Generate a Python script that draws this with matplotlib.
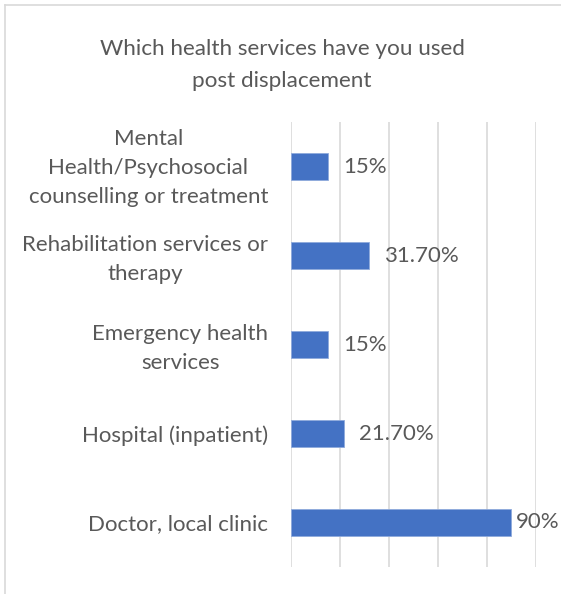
import matplotlib
matplotlib.use("Agg")
import matplotlib.pyplot as plt
import matplotlib.transforms as mtransforms
from matplotlib.lines import Line2D

categories = [
    "Doctor, local clinic",
    "Hospital (inpatient)",
    "Emergency health\nservices",
    "Rehabilitation services or\ntherapy",
    "Mental\nHealth/Psychosocial\ncounselling or treatment",
]
values = [90, 21.7, 15, 31.7, 15]
value_labels = ["90%", "21.70%", "15%", "31.70%", "15%"]
title = "Which health services have you used\npost displacement"

plt.rcParams['font.family'] = ['Lato', 'DejaVu Sans']
text_color = "#595959"

fig = plt.figure(figsize=(5.61, 5.94), dpi=100)
ax = fig.add_axes([0.5187, 0.0455, 0.4367, 0.749])

y = list(range(len(categories)))
ax.barh(y, values, height=0.31, color="#4472C4", edgecolor="#8FAADC", linewidth=0.6, zorder=3)
ax.set_xlim(0, 100)
ax.set_ylim(-0.5, len(categories) - 0.5)
ax.set_xticks([0, 20, 40, 60, 80, 100])
ax.set_xticklabels([])
ax.tick_params(axis='x', length=0)
ax.tick_params(axis='y', length=0, pad=16.5)
ax.set_yticks(y)
ax.set_yticklabels(categories, fontsize=16, color=text_color, linespacing=1.58, ha='right')
for lbl in ax.get_yticklabels():
    lbl.set_multialignment('center')
    n = lbl.get_text().count("\n")
    if n:
        off = mtransforms.ScaledTranslation(0, n * 2.5 / 100, fig.dpi_scale_trans)
        lbl.set_transform(lbl.get_transform() + off)
ax.grid(axis='x', color="#D9D9D9", linewidth=1.2, zorder=0)
for s in ax.spines.values():
    s.set_visible(False)

fig.canvas.draw()
renderer = fig.canvas.get_renderer()
fig_w_px = fig.get_figwidth() * fig.dpi
for yi, v, lab in zip(y, values, value_labels):
    x_end_px = ax.transData.transform((v, yi))[0]
    t = ax.text(0, yi, lab, fontsize=16, color=text_color, va='center', ha='left')
    w = t.get_window_extent(renderer).width
    x_px = min(x_end_px + 15, fig_w_px - 4 - w)
    x_px = max(x_px, x_end_px + 4)
    t.set_x(ax.transData.inverted().transform((x_px, 0))[0])

fig.text(0.503, 0.890, title, ha='center', va='center', fontsize=16.2,
         color=text_color, linespacing=1.75)

# chart border (left and top visible)
fig.add_artist(Line2D([4.5 / 561, 4.5 / 561], [0, 1 - 4.5 / 594], transform=fig.transFigure,
                      color="#D9D9D9", linewidth=1.2))
fig.add_artist(Line2D([4.5 / 561, 1], [1 - 4.5 / 594, 1 - 4.5 / 594], transform=fig.transFigure,
                      color="#D9D9D9", linewidth=1.2))

fig.savefig("out.png", dpi=100)
